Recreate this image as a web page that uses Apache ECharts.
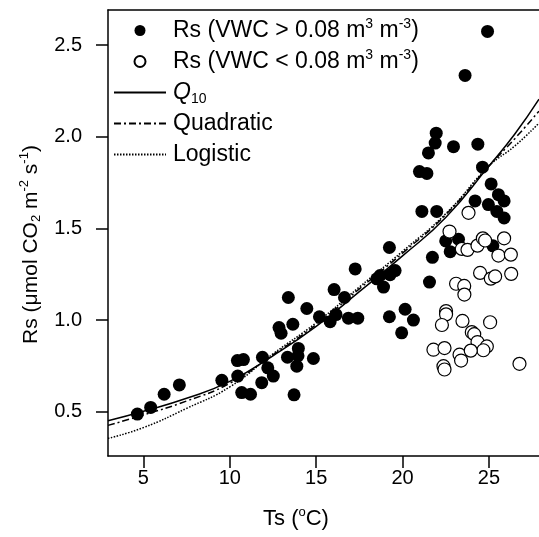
<!DOCTYPE html>
<html>
<head>
<meta charset="utf-8">
<script src="https://cdn.jsdelivr.net/npm/echarts@6/dist/echarts.min.js"></script>
<style>html,body{margin:0;padding:0;background:#fff}#c{width:539px;height:537px}</style>
</head>
<body>
<div id="c"></div>
<script>
// ---- data ----
const xTicks = [5, 10, 15, 20, 25];
const yTicks = [0.5, 1.0, 1.5, 2.0, 2.5];

// Rs at VWC > 0.08 (filled circles)
const wetTs = [4.65, 5.42, 6.20, 7.08, 9.54, 10.44, 10.79, 10.46, 10.69, 11.2, 11.89, 12.2, 12.52, 11.85,
  13.39, 13.65, 12.85, 12.97, 13.34, 13.72, 13.97, 13.88, 13.95, 19.24, 17.26, 16.04, 16.64, 14.46, 15.19,
  15.81, 16.15, 16.87, 17.41, 14.84, 18.51, 18.7, 19.28, 19.57, 18.9, 19.24, 19.95, 20.15, 20.63,
  21.12, 21.98, 24.2, 24.97, 25.46, 25.88, 25.55, 25.88, 22.5, 23.24, 22.76, 25.23, 21.73, 21.56,
  24.92, 23.62, 21.95, 21.89, 21.5, 22.95, 24.36, 20.98, 21.41, 24.63, 25.13];
const wetRs = [0.487, 0.523, 0.595, 0.646, 0.671, 0.779, 0.784, 0.694, 0.604, 0.595, 0.797, 0.739, 0.694, 0.658,
  1.123, 0.977, 0.959, 0.928, 0.797, 0.592, 0.845, 0.748, 0.805, 1.396, 1.279, 1.166, 1.123, 1.063, 1.018,
  0.991, 1.030, 1.010, 1.010, 0.790, 1.225, 1.243, 1.247, 1.270, 1.180, 1.018, 0.930, 1.059, 1.000,
  1.593, 1.593, 1.650, 1.630, 1.593, 1.557, 1.684, 1.650, 1.432, 1.441, 1.373, 1.405, 1.342, 1.207,
  2.575, 2.335, 2.020, 1.966, 1.912, 1.946, 1.960, 1.810, 1.800, 1.834, 1.743];

// Rs at VWC < 0.08 (open circles)
const dryTs = [23.82, 22.72, 23.43, 23.76, 24.34, 24.65, 24.78, 25.88, 25.55, 26.27, 24.49, 25.11, 25.36, 26.29,
  23.1, 23.57, 23.58, 22.52, 22.52, 22.28, 23.47, 25.07, 24.01, 24.15, 24.34, 24.88, 24.68, 21.79, 22.43,
  23.3, 23.39, 23.95, 22.37, 22.43, 26.77];
const dryRs = [1.585, 1.483, 1.388, 1.383, 1.406, 1.446, 1.434, 1.446, 1.352, 1.357, 1.257, 1.226, 1.238, 1.252,
  1.198, 1.186, 1.139, 1.049, 1.031, 0.973, 0.995, 0.988, 0.934, 0.923, 0.880, 0.856, 0.835, 0.838, 0.847,
  0.811, 0.779, 0.833, 0.748, 0.730, 0.761];

// fitted curves
const curveTs  = [2.95, 5, 7.5, 10, 12.5, 15, 17.5, 20, 22.5, 25, 26.5, 27.9];
const q10Rs    = [0.450, 0.502, 0.573, 0.665, 0.805, 0.965, 1.155, 1.350, 1.560, 1.840, 2.015, 2.205];
const quadRs   = [0.425, 0.482, 0.558, 0.655, 0.810, 0.975, 1.170, 1.365, 1.575, 1.840, 1.990, 2.140];
const logRs    = [0.354, 0.413, 0.518, 0.635, 0.815, 0.985, 1.180, 1.375, 1.580, 1.840, 1.950, 2.075];

const names = ['wet', 'dry', 'Q10', 'Quadratic', 'Logistic'];
const legendLabels = {
  wet: 'Rs (VWC > 0.08 m{sup|3} m{sup|-3})',
  dry: 'Rs (VWC < 0.08 m{sup|3} m{sup|-3})',
  Q10: '{it|Q}{sub|10}',
  Quadratic: 'Quadratic',
  Logistic: 'Logistic'
};

const zip = (a, b) => a.map((v, i) => [v, b[i]]);
const FONT = '"Liberation Sans", Arial, sans-serif';
function rich(size, lh) {
  const s = Math.round(size * 0.6);
  return {
    sup: { fontSize: s, lineHeight: s + 1, verticalAlign: 'top', fontFamily: FONT, color: '#000' },
    sub: { fontSize: s, lineHeight: s + 1, verticalAlign: 'bottom', fontFamily: FONT, color: '#000' },
    it: { fontSize: size, fontStyle: 'italic', fontFamily: FONT, color: '#000', lineHeight: lh },
    n: { fontSize: size, fontFamily: FONT, color: '#000', lineHeight: lh }
  };
}
const hidden = { color: 'rgba(0,0,0,0)', borderColor: 'rgba(0,0,0,0)', borderWidth: 0 };

const chart = echarts.init(document.getElementById('c'), null, { renderer: 'canvas' });
const axisLine = { show: true, lineStyle: { color: '#000', width: 1.5 } };
chart.setOption({
  animation: false,
  backgroundColor: '#fff',
  grid: { left: 108, top: 10, right: 0, bottom: 78, containLabel: false },
  legend: {
    orient: 'vertical', left: 113, top: 17, padding: 0, itemWidth: 52, itemHeight: 11, itemGap: 4,
    data: [
      { name: 'wet' }, { name: 'dry' },
      { name: 'Q10', itemStyle: hidden },
      { name: 'Quadratic', itemStyle: hidden },
      { name: 'Logistic', itemStyle: hidden }
    ],
    formatter: n => legendLabels[n],
    textStyle: { fontSize: 23, fontFamily: FONT, color: '#000', lineHeight: 27, padding: [0, 0, 0, 2], rich: rich(23, 27) }
  },
  xAxis: [{
    type: 'value', min: 2.95, max: 27.9,
    name: 'Ts ({sup|o}C)', nameLocation: 'middle', nameGap: 50,
    nameTextStyle: { fontSize: 22, fontFamily: FONT, color: '#000', lineHeight: 26, padding: [0, 55, 0, 0], rich: rich(22, 26) },
    axisLine: axisLine,
    axisTick: { show: true, inside: false, length: 12, lineStyle: { color: '#000', width: 1.5 }, customValues: xTicks },
    axisLabel: { customValues: xTicks, margin: 12, fontSize: 20, fontFamily: FONT, color: '#000' },
    splitLine: { show: false }
  }, {
    type: 'value', position: 'top', min: 2.95, max: 27.9,
    axisLine: axisLine, axisTick: { show: false }, axisLabel: { show: false }, splitLine: { show: false }
  }],
  yAxis: {
    type: 'value', min: 0.258, max: 2.692,
    name: 'Rs ({n|μ}mol CO{sub|2} m{sup|-2} s{sup|-1})', nameLocation: 'middle', nameGap: 64, nameRotate: 90,
    nameTextStyle: { fontSize: 21, fontFamily: FONT, color: '#000', lineHeight: 25, padding: [0, 23, 0, 0], rich: rich(21, 25) },
    axisLine: axisLine,
    axisTick: { show: true, inside: false, length: 12, lineStyle: { color: '#000', width: 1.5 }, customValues: yTicks },
    axisLabel: { customValues: yTicks, margin: 26, fontSize: 20, fontFamily: FONT, color: '#000', formatter: v => v.toFixed(1) },
    splitLine: { show: false }
  },
  series: [
    { name: 'Q10', type: 'line', data: zip(curveTs, q10Rs), smooth: true, symbol: 'none', z: 1,
      lineStyle: { color: '#000', width: 1.5, type: 'solid' }, itemStyle: { color: '#000' } },
    { name: 'Quadratic', type: 'line', data: zip(curveTs, quadRs), smooth: true, symbol: 'none', z: 1,
      lineStyle: { color: '#000', width: 1.5, type: [7, 3, 2, 3] }, itemStyle: { color: '#000' } },
    { name: 'Logistic', type: 'line', data: zip(curveTs, logRs), smooth: true, symbol: 'none', z: 1,
      lineStyle: { color: '#000', width: 1.5, type: [1.5, 1.5] }, itemStyle: { color: '#000' } },
    { name: 'wet', type: 'scatter', data: zip(wetTs, wetRs), symbol: 'circle', symbolSize: 13, z: 3,
      itemStyle: { color: '#000', opacity: 1 } },
    { name: 'dry', type: 'scatter', data: zip(dryTs, dryRs), symbol: 'circle', symbolSize: 13, z: 4,
      itemStyle: { color: '#fff', borderColor: '#000', borderWidth: 1.2, opacity: 1 } }
  ]
});
</script>
</body>
</html>
